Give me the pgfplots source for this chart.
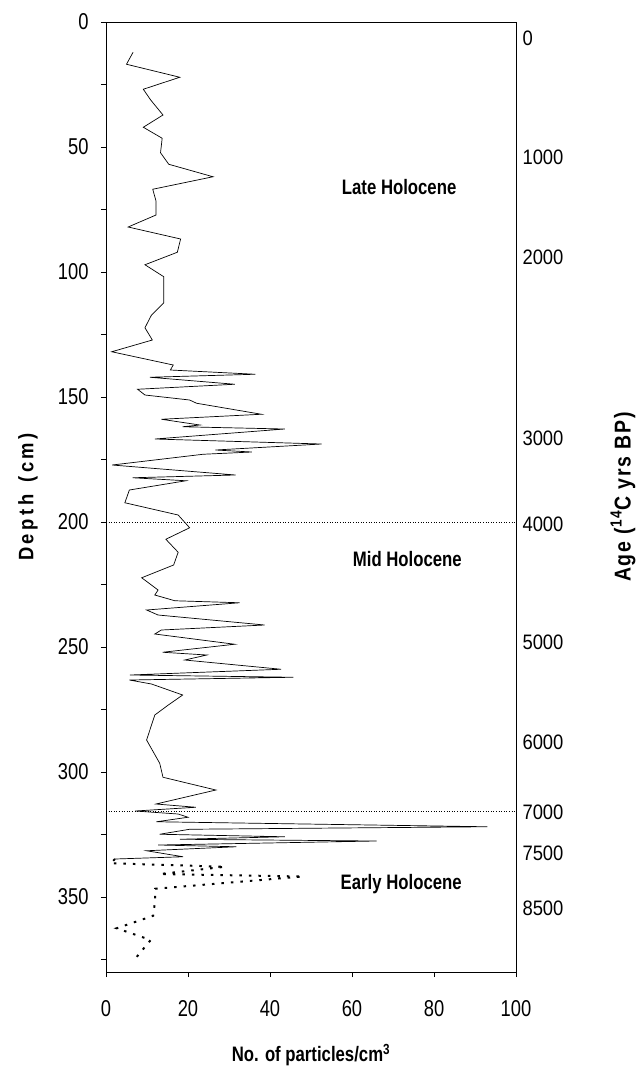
\documentclass[border=0pt]{standalone}
\usepackage{fontspec}
\setmainfont{Liberation Sans}
\newfontfamily\narrow{Liberation Sans}[FakeStretch=0.8]
\newfontfamily\semi{Liberation Sans}[FakeStretch=0.88]
\newfontfamily\agefont{Liberation Sans}[FakeStretch=0.85,LetterSpace=8]
\usepackage{pgfplots}
\pgfplotsset{compat=1.18}
\begin{document}
\begin{tikzpicture}
\begin{axis}[
  name=main,
  scale only axis, width=410bp, height=950bp,
  xmin=0, xmax=100, ymin=0, ymax=380, y dir=reverse,
  axis line style={line width=0.9pt},
  xtick={0,20,...,100}, ytick={0,50,...,350}, minor ytick={25,75,...,375},
  tick align=outside, major tick length=5bp, minor tick length=5bp,
  xtick pos=bottom, ytick pos=left,
  tick style={black, line width=0.8pt},
  /pgf/number format/assume math mode=true,
  tick label style={font=\narrow\fontsize{23}{23}\selectfont},
  yticklabel style={xshift=-9bp},
  xticklabel style={yshift=-20bp},
  xlabel={No. of particles/cm\textsuperscript{3}},
  xlabel style={font=\narrow\bfseries\fontsize{21}{21}\selectfont, at={(axis description cs:0.5,0)}, anchor=center, yshift=-83bp},
  ylabel={D\,e\,p\,t\,h\, \,(\,c\,m\,)},
  ylabel style={font=\semi\bfseries\fontsize{21}{21}\selectfont, at={(axis description cs:0,0.5)}, anchor=center, yshift=78bp},
  clip=false,
]
% solid series (x = particles/cm3, y = depth cm)
\addplot[black, line width=0.7pt, sharp plot] coordinates {
(6.6,12.1)(5.0,16.9)(18.0,22.1)(9.1,26.9)(10.9,31.2)(13.9,37.2)(9.1,42.1)(13.7,46.5)
(13.3,52.3)(15.3,56.9)(26.1,61.9)(11.4,66.9)(12.2,71.6)(12.2,77.2)(5.4,82.0)(18.2,86.8)
(17.4,92.1)(9.5,97.1)(14.1,101.9)(14.1,112.3)(11.1,117.2)(9.5,122.3)(11.3,127.2)(1.4,131.9)
(16.4,137.2)(15.7,139.2)(36.4,140.9)(10.7,142.1)(31.4,144.9)(7.7,146.9)(9.5,149.2)(20.4,151.2)
(22.1,152.5)(37.9,156.9)(13.5,158.9)(22.9,161.2)(18.7,161.9)(43.6,162.8)(11.9,166.8)(52.6,168.8)
(26.7,171.2)(35.6,172.0)(23.7,172.9)(1.5,177.2)(31.6,181.2)(6.5,182.3)(19.5,183.5)(5.7,187.2)
(4.6,192.3)(17.6,197.2)(20.4,202.3)(14.6,206.9)(17.6,212.1)(16.5,217.2)(8.7,222.3)(12.7,227.2)
(11.9,229.2)(16.8,231.5)(32.6,232.3)(9.9,235.2)(12.7,237.2)(38.7,241.2)(13.5,243.2)(11.9,244.8)
(31.4,248.9)(13.8,252.1)(24.6,253.2)(19.2,255.2)(42.7,258.9)(5.8,261.2)(45.7,262.1)(5.7,263.2)
(11.1,264.8)(18.7,269.2)(15.2,273.2)(11.9,277.2)(10.7,283.2)(9.9,287.2)(13.1,296.5)(13.9,302.1)
(26.8,307.2)(12.2,312.8)(21.9,314.1)(7.1,315.6)(17.6,316.8)(20.0,318.1)(12.3,319.9)(93.0,321.9)
(20.4,322.9)(13.1,324.9)(43.6,325.9)(18.0,326.9)(66.0,327.6)(12.7,329.2)(31.8,329.9)(9.9,331.5)
(18.8,333.9)(2.2,334.8)
};
% dotted (early Holocene) series
\addplot[black, line width=2pt, dash pattern=on 2.5bp off 7bp, sharp plot] coordinates {
(2.2,334.8)(1.1,336.5)(29.0,337.9)(13.1,340.8)(48.0,341.8)(12.0,346.7)(12.0,351.2)(11.5,357.5)
(2.6,362.5)(10.9,367.2)(6.5,375.9)
};
% zone boundaries
\addplot[black, line width=0.9pt, dash pattern=on 1bp off 1.6bp] coordinates {(0,200)(100,200)};
\addplot[black, line width=0.9pt, dash pattern=on 1bp off 1.6bp] coordinates {(0,315.6)(100,315.6)};
\node[font=\narrow\bfseries\fontsize{21}{21}\selectfont] at (axis cs:71.5,66) {Late Holocene};
\node[font=\narrow\bfseries\fontsize{21}{21}\selectfont] at (axis cs:73.5,215) {Mid Holocene};
\node[font=\narrow\bfseries\fontsize{21}{21}\selectfont] at (axis cs:72,345) {Early Holocene};
\coordinate (bl) at (axis cs:0,380);
\coordinate (tr) at (axis cs:100,0);
\end{axis}
\begin{axis}[
  scale only axis, width=410bp, height=950bp,
  xmin=0, xmax=100, ymin=0, ymax=380, y dir=reverse,
  hide x axis, axis y line*=right,
  y axis line style={draw=none},
  ytick={6.4,54,94,166.4,200.8,248,288,316,332.4,354.4},
  yticklabels={0,1000,2000,3000,4000,5000,6000,7000,7500,8500},
  major tick length=0pt,
  yticklabel style={font=\semi\fontsize{21}{21}\selectfont, xshift=3bp},
  ylabel={Age (\textsuperscript{14}C yrs BP)},
  ylabel style={font=\agefont\bfseries\fontsize{23}{23}\selectfont, at={(axis description cs:1,0.5)}, anchor=center, rotate=0, yshift=-107bp},
]
\addplot[draw=none] coordinates {(0,0)(100,380)};
\end{axis}
\pgfresetboundingbox
\path[use as bounding box] ([xshift=-106bp,yshift=-104bp]bl) rectangle ([xshift=125bp,yshift=22bp]tr);
\end{tikzpicture}
\end{document}
